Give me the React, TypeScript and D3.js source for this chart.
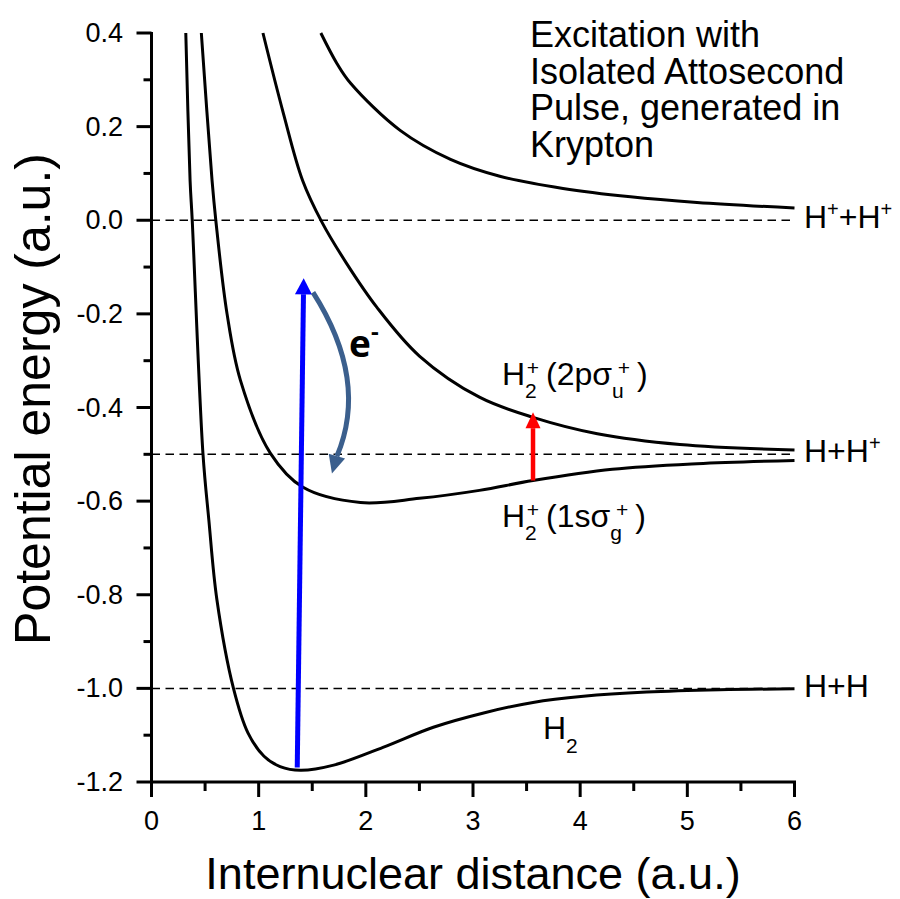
import React from 'react';
import * as d3 from 'd3';

// ---------- data ----------
const xDomain: [number, number] = [0, 6];
const yDomain: [number, number] = [-1.2, 0.4];
const xMajorTicks = [0, 1, 2, 3, 4, 5, 6];
const xMinorTicks = [0.5, 1.5, 2.5, 3.5, 4.5, 5.5];
const yMajorTicks = [0.4, 0.2, 0.0, -0.2, -0.4, -0.6, -0.8, -1.0, -1.2];
const yMinorTicks = [0.3, 0.1, -0.1, -0.3, -0.5, -0.7, -0.9, -1.1];
const limits = [0.0, -0.5, -1.0];

// H2 ground state
const curveH2: [number, number][] = [
  [0.32, 0.4], [0.36, 0.085], [0.38, 0.0], [0.48, -0.498], [0.535, -0.64],
  [0.61, -0.81], [0.765, -1.0], [0.9, -1.095], [1.05, -1.145], [1.2, -1.167], [1.39, -1.175], [1.7, -1.164],
  [2.16, -1.126], [2.63, -1.083], [3.09, -1.053], [3.56, -1.03], [4.03, -1.017], [4.62, -1.008],
  [5.3, -1.003], [6.0, -1.001],
];
// H2+ 1s sigma g
const curve1sg: [number, number][] = [
  [0.465, 0.4], [0.565, 0.085], [0.6, 0.0], [0.705, -0.2], [0.83, -0.342], [1.11, -0.498],
  [1.41, -0.57], [1.95, -0.603], [2.5, -0.594], [3.06, -0.577], [3.56, -0.556], [4.3, -0.532],
  [5.09, -0.52], [6.0, -0.513],
];
// H2+ 2p sigma u
const curve2pu: [number, number][] = [
  [1.04, 0.4], [1.23, 0.229], [1.41, 0.085], [1.59, -0.004], [1.82, -0.092], [2.1, -0.185],
  [2.5, -0.29], [3.06, -0.378], [3.56, -0.421], [4.16, -0.456], [4.93, -0.479], [6.0, -0.491],
];
// H+ + H+ Coulomb
const curveCoul: [number, number][] = [
  [1.58, 0.4], [1.73, 0.335], [1.86, 0.292], [2.32, 0.192], [2.79, 0.13], [3.25, 0.094],
  [3.84, 0.068], [4.47, 0.05], [5.09, 0.038], [6.0, 0.026],
];

// arrows: [from, to]
const blueArrow: [number, number][] = [[1.36, -1.169], [1.42, -0.124]];
const redArrow: [number, number][] = [[3.56, -0.556], [3.56, -0.41]];
// electron arrow: start, control, shaft end, tip
const electronArrow: [number, number][] = [[1.507, -0.154], [2.029, -0.342], [1.73, -0.504], [1.684, -0.541]];

const titleLines = ['Excitation with', 'Isolated Attosecond', 'Pulse, generated in', 'Krypton'];

const FONT = '"Liberation Sans", Arial, sans-serif';

function head(tip: [number, number], from: [number, number], L: number, W: number) {
  const dx = tip[0] - from[0];
  const dy = tip[1] - from[1];
  const len = Math.hypot(dx, dy);
  const ux = dx / len, uy = dy / len;
  const bx = tip[0] - ux * L, by = tip[1] - uy * L;
  const nx = -uy, ny = ux;
  return {
    pts: `${tip[0]},${tip[1]} ${bx + nx * W},${by + ny * W} ${bx - nx * W},${by - ny * W}`,
    base: [bx, by] as [number, number],
  };
}

function StateLabel({ x, y, body, sub }: { x: number; y: number; body: string; sub: string }) {
  return (
    <text x={x} y={y} fontSize={32}>
      <tspan>H</tspan>
      <tspan fontSize={21} y={y + 13}>2</tspan>
      <tspan fontSize={21} y={y - 10} dx={-10}>+</tspan>
      <tspan y={y} dx={7}>{body}</tspan>
      <tspan fontSize={21} y={y + 13}>{sub}</tspan>
      <tspan fontSize={21} y={y - 10} dx={-6}>+</tspan>
      <tspan y={y} dx={7}>)</tspan>
    </text>
  );
}

export default function App() {
  const x = d3.scaleLinear().domain(xDomain).range([151.5, 794.5]);
  const y = d3.scaleLinear().domain(yDomain).range([782, 33]);
  const line = d3
    .line<[number, number]>()
    .x((d) => x(d[0]))
    .y((d) => y(d[1]))
    .curve(d3.curveCatmullRom.alpha(0.5));

  const curves = [curveH2, curve1sg, curve2pu, curveCoul];

  const bFrom: [number, number] = [x(blueArrow[0][0]), y(blueArrow[0][1])];
  const bTip: [number, number] = [x(blueArrow[1][0]), y(blueArrow[1][1])];
  const bHead = head(bTip, bFrom, 16, 8.5);
  const rFrom: [number, number] = [x(redArrow[0][0]), y(redArrow[0][1])];
  const rTip: [number, number] = [x(redArrow[1][0]), y(redArrow[1][1])];
  const rHead = head(rTip, rFrom, 16, 7.5);
  const ep = electronArrow.map((d) => [x(d[0]), y(d[1])] as [number, number]);
  const ePath = d3.path();
  ePath.moveTo(ep[0][0], ep[0][1]);
  ePath.quadraticCurveTo(ep[1][0], ep[1][1], ep[2][0], ep[2][1]);
  const eHead = head(ep[3], ep[2], 18, 8.5);

  const axisY = y(-1.2);
  const axisX = x(0);

  return (
    <svg width={900} height={899} style={{ position: 'absolute', left: 0, top: 0, background: '#fff' }} fontFamily={FONT}>
      <rect width={900} height={899} fill="#fff" />
      {limits.map((v) => (
        <line key={v} x1={x(0)} x2={x(6)} y1={y(v)} y2={y(v)} stroke="#000" strokeWidth={1.5} strokeDasharray="8.5,5.5" />
      ))}
      {curves.map((c, i) => (
        <path key={i} d={line(c) || ''} fill="none" stroke="#000" strokeWidth={3} strokeLinejoin="round" />
      ))}
      <line x1={bFrom[0]} y1={bFrom[1]} x2={bHead.base[0]} y2={bHead.base[1]} stroke="#0000ff" strokeWidth={5} />
      <polygon points={bHead.pts} fill="#0000ff" />
      <line x1={rFrom[0]} y1={rFrom[1]} x2={rHead.base[0]} y2={rHead.base[1]} stroke="#ff0000" strokeWidth={4.5} />
      <polygon points={rHead.pts} fill="#ff0000" />
      <path d={ePath.toString()} fill="none" stroke="#3b5f8d" strokeWidth={5} />
      <polygon points={eHead.pts} fill="#3b5f8d" />
      <text x={349} y={357} fontSize={37} fontWeight="bold" fontFamily='"Open Sans", "Liberation Sans", sans-serif'>
        e<tspan fontSize={24} dy={-17}>-</tspan>
      </text>

      {titleLines.map((t, i) => (
        <text key={t} x={530} y={47 + i * 36.7} fontSize={36}>{t}</text>
      ))}

      <text x={804} y={228} fontSize={32}>
        H<tspan fontSize={20} dy={-12}>+</tspan><tspan dy={12}>+H</tspan><tspan fontSize={20} dy={-12}>+</tspan>
      </text>
      <text x={804} y={462} fontSize={32}>
        H+H<tspan fontSize={20} dy={-12}>+</tspan>
      </text>
      <text x={804} y={697} fontSize={32}>H+H</text>

      <StateLabel x={502} y={385} body="(2pσ" sub="u" />
      <StateLabel x={502} y={527} body="(1sσ" sub="g" />
      <text x={543} y={739} fontSize={32}>
        H<tspan fontSize={21} dy={14}>2</tspan>
      </text>

      <line x1={axisX} x2={axisX} y1={y(0.4) - 1} y2={axisY + 1.5} stroke="#000" strokeWidth={3} />
      <line x1={axisX - 1.5} x2={x(6) + 1.5} y1={axisY} y2={axisY} stroke="#000" strokeWidth={3} />
      {yMajorTicks.map((v) => (
        <g key={'ym' + v}>
          <line x1={axisX - 15} x2={axisX} y1={y(v)} y2={y(v)} stroke="#000" strokeWidth={3} />
          <text x={123} y={y(v)} fontSize={27} textAnchor="end" dominantBaseline="central">
            {d3.format('.1f')(v).replace('−', '-')}
          </text>
        </g>
      ))}
      {yMinorTicks.map((v) => (
        <line key={'yn' + v} x1={axisX - 8} x2={axisX} y1={y(v)} y2={y(v)} stroke="#000" strokeWidth={3} />
      ))}
      {xMajorTicks.map((v) => (
        <g key={'xm' + v}>
          <line x1={x(v)} x2={x(v)} y1={axisY} y2={axisY + 15} stroke="#000" strokeWidth={3} />
          <text x={x(v)} y={830} fontSize={27} textAnchor="middle">{v}</text>
        </g>
      ))}
      {xMinorTicks.map((v) => (
        <line key={'xn' + v} x1={x(v)} x2={x(v)} y1={axisY} y2={axisY + 9} stroke="#000" strokeWidth={3} />
      ))}

      <text x={473} y={889} fontSize={45} textAnchor="middle">Internuclear distance (a.u.)</text>
      <text transform="translate(50,399) rotate(-90)" fontSize={50} textAnchor="middle">Potential energy (a.u.)</text>
    </svg>
  );
}
